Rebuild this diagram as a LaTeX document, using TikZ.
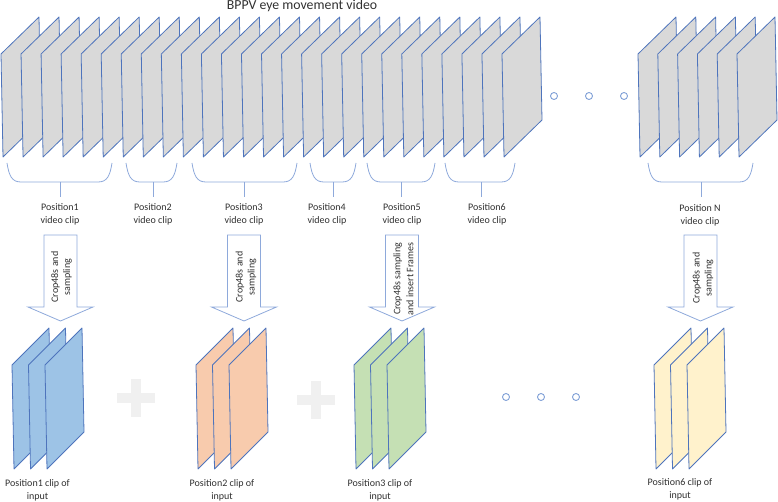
\documentclass[tikz,border=0pt]{standalone}
\usepackage{fontspec}
\setmainfont{Carlito}
\definecolor{frameblue}{HTML}{4E74BC}
\definecolor{framegrey}{HTML}{D9D9D9}
\definecolor{bracecol}{HTML}{8EA9DB}
\definecolor{dotcol}{HTML}{7F9FD6}
\definecolor{textcol}{HTML}{303030}
\definecolor{stkblue}{HTML}{9DC3E6}
\definecolor{stkorange}{HTML}{F8CBAD}
\definecolor{stkgreen}{HTML}{C5E0B4}
\definecolor{stkyellow}{HTML}{FFF2CC}
\definecolor{plusgrey}{HTML}{F0F0F0}
\newcommand\topframe[1]{\filldraw[frm, fill=framegrey] (#1,54) -- ++(38,-37) -- ++(2,103) -- ++(-38,37) -- cycle;}
\newcommand\stkframe[2]{\filldraw[frm, fill=#2] (#1,365) -- ++(37,-37) -- ++(2,104) -- ++(-37,37) -- cycle;}
\newcommand\clipbrace[3]{\draw[brc] (#1,163) .. controls (#1+2,176) and (#1+5,182) .. (#1+14,182) -- (#2-14,182) .. controls (#2-5,182) and (#2-2,176) .. (#2,163);
  \draw[brc] (#3,182) -- (#3,197);}
\newcommand\blkarrow[1]{\draw[blk] (#1-16.5,235) -- (#1+16.5,235) -- (#1+16.5,307) -- (#1+32.5,307) -- (#1,321) -- (#1-32.5,307) -- (#1-16.5,307) -- cycle;}
\newcommand\plussign[2]{\fill[plusgrey] (#1-19,#2-5) rectangle (#1+19,#2+5); \fill[plusgrey] (#1-5,#2-19) rectangle (#1+5,#2+19);}
\begin{document}
\begin{tikzpicture}[x=1pt,y=-1pt,
  frm/.style={line width=0.8pt, draw=frameblue, line join=round},
  brc/.style={line width=0.8pt, draw=bracecol},
  blk/.style={line width=0.8pt, draw=bracecol, fill=white, line join=miter},
  lbl/.style={font=\fontsize{10}{12.7}\selectfont, align=center, inner sep=0pt, text=textcol},
  ring/.style={line width=0.9pt, draw=dotcol},
]
\useasboundingbox (0,0) rectangle (778,502);
% title
\node[font=\fontsize{13.8}{16}\selectfont, text=textcol, anchor=base, inner sep=0pt] (title) at (302,10) {BPPV eye movement video};
% top frames
\foreach \i in {0,...,25} { \pgfmathsetmacro\xx{1+20.04*\i} \topframe{\xx} }
\foreach \i in {0,...,5} { \pgfmathsetmacro\xx{638+19.8*\i} \topframe{\xx} }
% top dots
\foreach \x/\n in {554/a,589/b,624/c} { \draw[ring] (\x,96) circle (3.5); \coordinate (td\n) at (\x,96); }
% braces
\clipbrace{7}{112}{60.5}
\clipbrace{126}{177}{153}
\clipbrace{192}{297}{244}
\clipbrace{310}{356}{333}
\clipbrace{367}{435}{401}
\clipbrace{445}{515}{481}
\clipbrace{648}{753}{701}
% clip labels
\node[lbl] (p1) at (60,214.5) {Position1\\video clip};
\node[lbl] (p2) at (153,214.5) {Position2\\video clip};
\node[lbl] (p3) at (244,214.5) {Position3\\video clip};
\node[lbl] (p4) at (327,214.5) {Position4\\video clip};
\node[lbl] (p5) at (402,214.5) {Position5\\video clip};
\node[lbl] (p6) at (487,214.5) {Position6\\video clip};
\node[lbl] (pN) at (700,215.5) {Position N\\video clip};
% block arrows
\blkarrow{60.5}
\blkarrow{244}
\blkarrow{402}
\blkarrow{700.5}
\node[lbl, rotate=90, font=\fontsize{10}{12}\selectfont] (a1) at (61.5,277) {Crop48s and\\sampling};
\node[lbl, rotate=90, font=\fontsize{10}{12}\selectfont] (a2) at (246,277) {Crop48s and\\sampling};
\node[lbl, rotate=90, font=\fontsize{10}{13}\selectfont] (a3) at (403.5,279) {Crop48s sampling\\and insert Frames};
\node[lbl, rotate=90, font=\fontsize{10}{12}\selectfont] (aN) at (703,278) {Crop48s and\\sampling};
% stacks
\foreach \x in {12,28.5,45} { \stkframe{\x}{stkblue} }
\foreach \x in {196,212.5,229} { \stkframe{\x}{stkorange} }
\foreach \x in {354,370.5,387} { \stkframe{\x}{stkgreen} }
\foreach \x in {654,670.5,687} { \stkframe{\x}{stkyellow} }
% plus signs
\plussign{136}{398}
\plussign{316}{400}
% bottom dots
\foreach \x/\n in {506/a,541/b,576/c} { \draw[ring] (\x,397) circle (3.5); \coordinate (bd\n) at (\x,397); }
% bottom labels
\node[lbl] (s1) at (37.5,490) {Position1 clip of\\input};
\node[lbl] (s2) at (222,490) {Position2 clip of\\input};
\node[lbl] (s3) at (380,490) {Position3 clip of\\input};
\node[lbl] (s4) at (680,489) {Position6 clip of\\input};
\end{tikzpicture}
\end{document}
